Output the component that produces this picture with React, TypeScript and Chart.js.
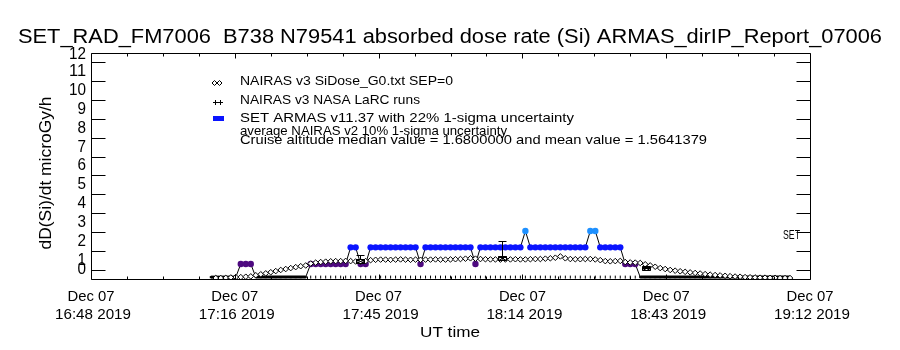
import React, { useEffect, useRef } from 'react';
import { Chart, registerables } from 'chart.js';
Chart.register(...registerables);

// ---------- text ----------
const TITLE = 'SET_RAD_FM7006  B738 N79541 absorbed dose rate (Si) ARMAS_dirIP_Report_07006';
const Y_TITLE = 'dD(Si)/dt microGy/h';
const X_TITLE = 'UT time';
const LEGEND_LINES = [
  'NAIRAS v3 SiDose_G0.txt SEP=0',
  'NAIRAS v3 NASA LaRC runs',
  'SET ARMAS v11.37 with 22% 1-sigma uncertainty',
  'average NAIRAS v2 10% 1-sigma uncertainty',
  'Cruise altitude median value = 1.6800000 and mean value = 1.5641379',
];
const SET_LABEL = 'SET';

// ---------- axes (x in minutes after 16:48 UT) ----------
const START_MIN = 16 * 60 + 48;
const X_MIN = 0;
const X_MAX = 144;
const X_TICKS = [0, 28.8, 57.6, 86.4, 115.2, 144];
const X_DATE = 'Dec 07';
const X_YEAR = '2019';
const Y_MIN = 0;
const Y_MAX = 12;
const Y_TICKS = [0, 1, 2, 3, 4, 5, 6, 7, 8, 9, 10, 11, 12];

// ---------- data ----------
// NAIRAS v3 SiDose (open diamonds), one value per minute starting at minute 25
const NAIRAS_START = 25;
const NAIRAS_DOSE = [
  0.05, 0.05, 0.06, 0.08, 0.1,
  0.1, 0.12, 0.14,
  0.2, 0.25, 0.3, 0.36, 0.42, 0.48, 0.53, 0.58, 0.63, 0.68, 0.72,
  0.82, 0.87, 0.9, 0.92, 0.94, 0.95, 0.95, 0.96,
  0.95, 0.93, 0.92, 0.95,
  1.0, 1.02, 1.03, 1.03, 1.02, 1.03, 1.04, 1.03, 1.02, 1.03,
  1.02, 1.03, 1.03, 1.04, 1.03, 1.03, 1.04, 1.05, 1.06, 1.08, 1.1,
  1.08, 1.06, 1.05, 1.04, 1.04, 1.03, 1.04, 1.04, 1.05, 1.04,
  1.04, 1.05, 1.06, 1.06, 1.08, 1.1, 1.13, 1.2, 1.1, 1.06, 1.05, 1.05, 1.06,
  1.06, 1.04, 1.0, 0.95, 0.94, 0.95, 0.96,
  0.9, 0.88, 0.87, 0.85,
  0.78, 0.72, 0.65, 0.58, 0.53, 0.48, 0.44, 0.41, 0.38, 0.35,
  0.32, 0.29, 0.26, 0.23, 0.21, 0.19, 0.17, 0.15, 0.13, 0.12,
  0.1, 0.09, 0.08, 0.07, 0.07, 0.06, 0.06, 0.05, 0.05, 0.05,
];

// SET ARMAS measured dose rate, one value per minute starting at minute 24
const ARMAS_START = 24;
const ARMAS_DOSE = [
  0.1, 0.1, 0.1, 0.1, 0.1, 0.1,
  0.8, 0.8, 0.8,
  0.1, 0.1, 0.1, 0.1, 0.1, 0.1, 0.1, 0.1, 0.1, 0.1, 0.1,
  0.8, 0.8, 0.8, 0.8, 0.8, 0.8, 0.8, 0.8,
  1.68, 1.68,
  0.8, 0.8,
  1.68, 1.68, 1.68, 1.68, 1.68, 1.68, 1.68, 1.68, 1.68, 1.68,
  0.8,
  1.68, 1.68, 1.68, 1.68, 1.68, 1.68, 1.68, 1.68, 1.68, 1.68,
  0.8,
  1.68, 1.68, 1.68, 1.68, 1.68, 1.68, 1.68, 1.68, 1.68,
  2.55,
  1.68, 1.68, 1.68, 1.68, 1.68, 1.68, 1.68, 1.68, 1.68, 1.68, 1.68, 1.68,
  2.55, 2.55,
  1.68, 1.68, 1.68, 1.68, 1.68,
  0.8, 0.8, 0.8,
  0.1, 0.1, 0.1, 0.1, 0.1, 0.1, 0.1, 0.1, 0.1, 0.1,
  0.1, 0.1, 0.1, 0.1, 0.1, 0.1, 0.1, 0.1, 0.1, 0.1,
  0.1, 0.1, 0.1, 0.1, 0.1, 0.1, 0.1, 0.1, 0.1, 0.1, 0.1,
];

// zero-level tick marks along the bottom during cruise
const ZERO_TICK_TIME = [
  44, 45, 46, 47, 48, 49, 50, 51, 52, 53, 54, 55, 56, 57, 58, 59, 60, 61, 62, 63, 64, 65,
  66, 67, 68, 69, 70, 71, 72, 73, 74, 75, 76, 77, 78, 79, 80, 81, 82, 83, 84, 85, 86, 87,
  88, 89, 90, 91, 92, 93, 94, 95, 96, 97, 98, 99, 100, 101, 102, 103, 104, 105, 106, 107, 108, 109,
];
const ZERO_TICK_DOSE = 0.1;

// NAIRAS v3 NASA LaRC runs (marker + error bar)
const LARC_TIME = [53.9, 82.3, 111.2];
const LARC_DOSE = [0.96, 1.1, 0.6];
const LARC_LO = [1.06, 1.18, 0.56];
const LARC_HI = [1.27, 2.04, 0.65];

// ---------- styles ----------
const FONT = '"Liberation Sans", Arial, sans-serif';
const PURPLE = '#4e0a80';
const BLUE = '#0a14ff';
const LIGHT_BLUE = '#1e90ff';

function armasColor(v: number) {
  if (v < 0.3) return '#000000';
  if (v < 1.2) return PURPLE;
  if (v < 2.2) return BLUE;
  return LIGHT_BLUE;
}

function fmtTime(t: number) {
  const total = START_MIN + t;
  const h = Math.floor(total / 60);
  const m = Math.floor(total % 60);
  return `${h}:${String(m).padStart(2, '0')} ${X_YEAR}`;
}

function drawFitText(
  ctx: CanvasRenderingContext2D,
  text: string,
  x: number,
  y: number,
  width: number,
  size: number,
  align: 'left' | 'center' | 'right' = 'left',
  rotate = 0,
) {
  ctx.save();
  ctx.font = `${size}px ${FONT}`;
  const w = ctx.measureText(text).width;
  ctx.translate(x, y);
  if (rotate) ctx.rotate(rotate);
  ctx.scale(width / w, 1);
  ctx.textAlign = align;
  ctx.textBaseline = 'middle';
  ctx.fillStyle = '#000';
  ctx.fillText(text, 0, 0);
  ctx.restore();
}

function drawAxes(chart: any) {
  const { ctx, chartArea } = chart;
  const { left, right, top, bottom } = chartArea;
  const xs = chart.scales.x;
  const ys = chart.scales.y;
  const L = Math.round(left) + 0.5;
  const R = Math.round(right) + 0.5;
  const T = Math.round(top) + 0.5;
  const B = Math.round(bottom) + 0.5;
  ctx.save();
  ctx.strokeStyle = '#000000';
  ctx.lineWidth = 1;
  ctx.beginPath();
  ctx.moveTo(L, T);
  ctx.lineTo(R, T);
  ctx.lineTo(R, B);
  ctx.lineTo(L, B);
  ctx.closePath();
  // y ticks at half values (inward, both sides)
  for (let i = 0; i < Y_TICKS.length - 1; i++) {
    const v = (Y_TICKS[i] + Y_TICKS[i + 1]) / 2;
    const py = Math.round(ys.getPixelForValue(v)) + 0.5;
    ctx.moveTo(L, py);
    ctx.lineTo(L + 14, py);
    ctx.moveTo(R, py);
    ctx.lineTo(R - 14, py);
  }
  // x ticks: majors and 3 minors per interval
  for (let i = 0; i < X_TICKS.length; i++) {
    const px = Math.round(xs.getPixelForValue(X_TICKS[i])) + 0.5;
    ctx.moveTo(px, B);
    ctx.lineTo(px, B - 5);
    ctx.moveTo(px, T);
    ctx.lineTo(px, T + 5);
    if (i < X_TICKS.length - 1) {
      const step = (X_TICKS[i + 1] - X_TICKS[i]) / 4;
      for (let k = 1; k < 4; k++) {
        const mx = Math.round(xs.getPixelForValue(X_TICKS[i] + k * step)) + 0.5;
        ctx.moveTo(mx, B);
        ctx.lineTo(mx, B - 3);
        ctx.moveTo(mx, T);
        ctx.lineTo(mx, T + 3);
      }
    }
  }
  ctx.stroke();
  ctx.restore();
}

const overlayPlugin = {
  id: 'idlOverlay',
  afterDatasetsDraw(chart: any) {
    const { ctx } = chart;
    const xs = chart.scales.x;
    const ys = chart.scales.y;
    drawAxes(chart);
    ctx.save();
    ctx.strokeStyle = '#000';
    ctx.lineWidth = 1;
    // LaRC error bars + markers
    for (let i = 0; i < LARC_TIME.length; i++) {
      const px = Math.round(xs.getPixelForValue(LARC_TIME[i])) + 0.5;
      const lo = Math.round(ys.getPixelForValue(LARC_LO[i])) + 0.5;
      const hi = Math.round(ys.getPixelForValue(LARC_HI[i])) + 0.5;
      const c = Math.round(ys.getPixelForValue(LARC_DOSE[i])) + 0.5;
      ctx.beginPath();
      ctx.moveTo(px, lo);
      ctx.lineTo(px, hi);
      ctx.moveTo(px - 4, lo);
      ctx.lineTo(px + 4, lo);
      ctx.moveTo(px - 4, hi);
      ctx.lineTo(px + 4, hi);
      ctx.rect(px - 4, c - 2, 8, 4);
      ctx.moveTo(px - 4, c - 2);
      ctx.lineTo(px + 4, c + 2);
      ctx.moveTo(px + 4, c - 2);
      ctx.lineTo(px - 4, c + 2);
      ctx.stroke();
    }
    ctx.restore();

    // title
    drawFitText(ctx, TITLE, 18, 37, 864, 20);
    // y labels
    for (const v of Y_TICKS) {
      let py = ys.getPixelForValue(v);
      if (v === Y_MIN) py -= 9;
      if (v === Y_MAX) py += 2;
      const s = String(v);
      drawFitText(ctx, s, 86, py, s.length * 8.5, 16, 'right');
    }
    // y title
    drawFitText(ctx, Y_TITLE, 47, 173, 153, 16, 'center', -Math.PI / 2);
    // x labels
    for (const t of X_TICKS) {
      const px = xs.getPixelForValue(t);
      drawFitText(ctx, X_DATE, px, 297, 47, 15, 'center');
      drawFitText(ctx, fmtTime(t), px + 2, 315, 76, 15, 'center');
    }
    drawFitText(ctx, X_TITLE, 450, 333, 60, 15, 'center');

    // legend
    const lx = 240;
    const widths = [213, 180, 334, 267, 467];
    const ly = [81, 100, 118, 131.5, 140];
    LEGEND_LINES.forEach((s, i) => drawFitText(ctx, s, lx, ly[i], widths[i], 13));
    ctx.save();
    ctx.strokeStyle = '#000';
    ctx.fillStyle = '#fff';
    ctx.lineWidth = 1;
    for (const dx of [214.5, 219.5]) {
      ctx.beginPath();
      ctx.moveTo(dx - 2.5, 83);
      ctx.lineTo(dx, 80.5);
      ctx.lineTo(dx + 2.5, 83);
      ctx.lineTo(dx, 85.5);
      ctx.closePath();
      ctx.fill();
      ctx.stroke();
    }
    ctx.beginPath();
    for (const dx of [215.5, 220.5]) {
      ctx.moveTo(dx - 2.5, 102.5);
      ctx.lineTo(dx + 2.5, 102.5);
      ctx.moveTo(dx, 100);
      ctx.lineTo(dx, 105);
    }
    ctx.stroke();
    ctx.fillStyle = BLUE;
    ctx.beginPath();
    ctx.rect(213, 116, 11, 5);
    ctx.fill();
    ctx.restore();

    // SET label
    drawFitText(ctx, SET_LABEL, 783, 236, 17, 12);
  },
};

export default function App() {
  const ref = useRef<HTMLCanvasElement | null>(null);
  useEffect(() => {
    if (!ref.current) return;
    const armasData = ARMAS_DOSE.map((v, i) => ({ x: ARMAS_START + i, y: v }));
    const nairasData = NAIRAS_DOSE.map((v, i) => ({ x: NAIRAS_START + i, y: v }));
    const zeroData = ZERO_TICK_TIME.map((t) => ({ x: t, y: ZERO_TICK_DOSE }));
    const chart = new Chart(ref.current, {
      type: 'line',
      data: {
        datasets: [
          {
            label: 'NAIRAS v3 SiDose',
            data: nairasData,
            showLine: false,
            pointStyle: 'rectRot',
            pointRadius: 2.8,
            pointBackgroundColor: '#ffffff',
            pointBorderColor: '#000000',
            pointBorderWidth: 1,
            order: 0,
          },
          {
            label: 'SET ARMAS',
            data: armasData,
            borderColor: '#000000',
            borderWidth: 1,
            segment: {
              borderWidth: (c: any) => (c.p0.parsed.y < 0.3 && c.p1.parsed.y < 0.3 ? 3 : 1),
            },
            pointStyle: ARMAS_DOSE.map((v) => (v < 0.3 ? 'rect' : 'circle')) as any,
            pointRadius: ARMAS_DOSE.map((v) => (v < 0.3 ? 1.5 : 3.2)),
            pointBackgroundColor: ARMAS_DOSE.map(armasColor),
            pointBorderColor: ARMAS_DOSE.map(armasColor),
            pointBorderWidth: 0,
            order: 1,
          } as any,
          {
            label: 'zero',
            data: zeroData,
            showLine: false,
            pointStyle: 'line',
            rotation: 90,
            pointRadius: 1.5,
            pointBorderColor: '#000000',
            pointBorderWidth: 1,
            order: 2,
          } as any,
        ],
      },
      options: {
        animation: false,
        responsive: false,
        events: [],
        layout: { padding: { left: 91, right: 90, top: 53, bottom: 71 } },
        plugins: { legend: { display: false }, tooltip: { enabled: false }, title: { display: false } },
        scales: {
          x: { type: 'linear', min: X_MIN, max: X_MAX, display: false },
          y: { type: 'linear', min: Y_MIN, max: Y_MAX, display: false },
        },
      },
      plugins: [overlayPlugin],
    });
    return () => chart.destroy();
  }, []);
  return (
    <div style={{ position: 'absolute', left: 0, top: 0, width: 900, height: 350, background: '#fff' }}>
      <canvas ref={ref} width={900} height={350} />
    </div>
  );
}
